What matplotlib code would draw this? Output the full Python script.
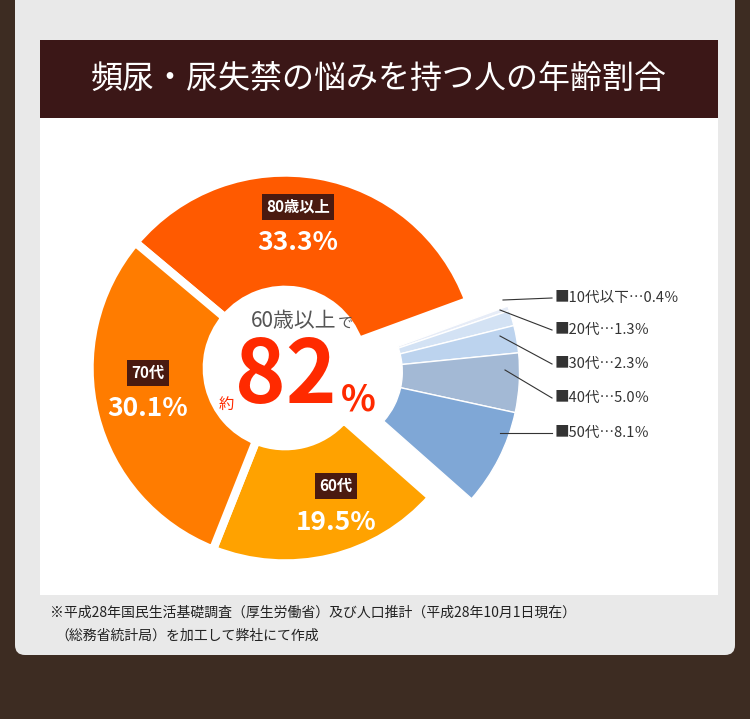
import matplotlib
matplotlib.use("Agg")
import matplotlib.pyplot as plt
from matplotlib.patches import Rectangle, FancyBboxPatch

plt.rcParams["font.family"] = "Noto Sans CJK JP"

# ----- data -----
labels = ["80歳以上", "10代以下", "20代", "30代", "40代", "50代", "60代", "70代"]
values = [33.3, 0.4, 1.3, 2.3, 5.0, 8.1, 19.5, 30.1]
colors = ["#ff5a00", "#e6ecf7", "#d3e2f4", "#bcd3ee", "#a3b9d5", "#7fa7d6", "#ffa200", "#ff7c00"]
under60 = ["10代以下", "20代", "30代", "40代", "50代"]
legend_text = ["■10代以下…0.4％", "■20代…1.3％", "■30代…2.3％", "■40代…5.0％", "■50代…8.1％"]

W, H = 750, 719
fig = plt.figure(figsize=(7.5, 7.19), dpi=100)
fig.patch.set_facecolor("#3d2c22")
bg = fig.add_axes([0, 0, 1, 1])
bg.set_xlim(0, W)
bg.set_ylim(H, 0)
bg.axis("off")

# light marble panel and white card
bg.add_patch(FancyBboxPatch((15, -20), 720, 675, boxstyle="round,pad=0,rounding_size=10",
                            facecolor="#e9e9e9", edgecolor="none"))
bg.add_patch(Rectangle((40, 40), 678, 555, facecolor="white", edgecolor="none"))
bg.add_patch(Rectangle((40, 40), 678, 78, facecolor="#3b1717", edgecolor="none"))
bg.text(379, 79, "頻尿・尿失禁の悩みを持つ人の年齢割合", color="white", fontsize=23,
        ha="center", va="center")

# ----- pie -----
cx, cy, size = 285, 368, 430
ax = fig.add_axes([(cx - size / 2) / W, (H - cy - size / 2) / H, size / W, size / H])
wedges, _ = ax.pie(values, colors=colors, startangle=140, counterclock=False,
                   wedgeprops=dict(width=0.6, edgecolor="white", linewidth=6))
for w, lab in zip(wedges, labels):
    if lab in under60:
        w.set_center((0.22, -0.02))
        w.set_radius(0.98)
        w.set_linewidth(1)
ax.set_xlim(-1.1, 1.1)
ax.set_ylim(-1.1, 1.1)
ax.set_aspect("equal")
ax.axis("off")

# overlay for texts
top = fig.add_axes([0, 0, 1, 1])
top.set_xlim(0, W)
top.set_ylim(H, 0)
top.axis("off")
top.patch.set_alpha(0)

def slice_label(x, y, name, pct):
    top.text(x, y, name, color="white", fontsize=11, fontweight="bold", ha="center", va="center",
             bbox=dict(boxstyle="square,pad=0.3", facecolor="#4a1a10", edgecolor="none"))
    top.text(x, y + 36, pct, color="white", fontsize=19, fontweight="bold", ha="center", va="center")

vals = dict(zip(labels, values))
slice_label(298, 207, "80歳以上", f"{vals['80歳以上']}%")
slice_label(148, 373, "70代", f"{vals['70代']}%")
slice_label(336, 486, "60代", f"{vals['60代']}%")

# center text
top.text(337, 321, "60歳以上", color="#555555", fontsize=15, ha="right", va="center")
top.text(338, 323, "で", color="#555555", fontsize=11, ha="left", va="center")
top.text(226, 404, "約", color="#ff2a00", fontsize=11, ha="center", va="center")
top.text(286, 378, "82", color="#ff2a00", fontsize=62, fontweight="bold", ha="center", va="center")
top.text(358, 400, "%", color="#ff2a00", fontsize=26, fontweight="bold", ha="center", va="center")

# legend with leader lines
ly = [298, 330, 364, 398, 433]
starts = [(503, 300), (500, 310), (500, 336), (505, 370), (500, 433)]
for (sx, sy), y, t in zip(starts, ly, legend_text):
    top.plot([sx, 552], [sy, y], color="#333333", lw=0.8)
    top.text(555, y, t, color="#333333", fontsize=10.5, ha="left", va="center")

# footnote
top.text(50, 613, "※平成28年国民生活基礎調査（厚生労働省）及び人口推計（平成28年10月1日現在）",
         color="#222222", fontsize=10, ha="left", va="center")
top.text(55, 636, "（総務省統計局）を加工して弊社にて作成",
         color="#222222", fontsize=10, ha="left", va="center")

fig.savefig("out.png", dpi=100, facecolor=fig.get_facecolor())
